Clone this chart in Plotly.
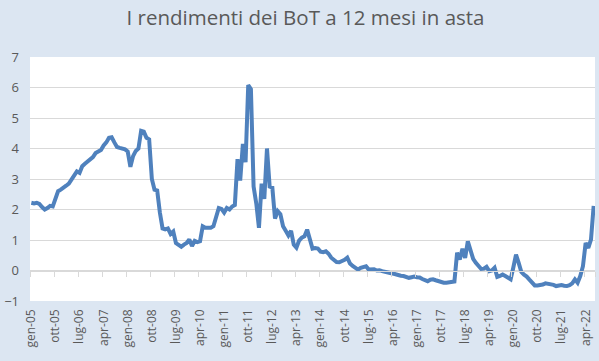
import plotly.graph_objects as go

# Monthly yields (%), Jan 2005 .. Jul 2022
y2005 = [2.22, 2.20, 2.22, 2.18, 2.08, 2.00, 2.05, 2.12, 2.10, 2.40, 2.60, 2.65]
y2006 = [2.70, 2.78, 2.85, 3.00, 3.15, 3.25, 3.20, 3.42, 3.50, 3.58, 3.65, 3.72]
y2007 = [3.85, 3.90, 3.95, 4.10, 4.20, 4.35, 4.37, 4.20, 4.05, 4.02, 4.00, 3.97]
y2008 = [3.90, 3.40, 3.75, 3.92, 4.00, 4.58, 4.55, 4.35, 4.30, 3.00, 2.65, 2.62]
y2009 = [1.90, 1.38, 1.35, 1.38, 1.20, 1.28, 0.90, 0.85, 0.78, 0.85, 0.90, 1.02]
y2010 = [0.80, 0.97, 0.93, 0.96, 1.45, 1.40, 1.40, 1.40, 1.45, 1.78, 2.05, 2.02]
y2011 = [1.90, 2.05, 2.00, 2.10, 2.15, 3.65, 2.95, 4.15, 3.55, 6.08, 5.95, 2.75]
y2012 = [2.20, 1.40, 2.85, 2.35, 4.00, 2.75, 2.72, 1.70, 1.95, 1.85, 1.45, 1.30]
y2013 = [1.15, 1.30, 0.85, 0.75, 0.98, 1.08, 1.12, 1.34, 1.00, 0.72, 0.74, 0.72]
y2014 = [0.62, 0.60, 0.63, 0.55, 0.42, 0.35, 0.28, 0.27, 0.30, 0.35, 0.42, 0.23]
y2015 = [0.15, 0.08, 0.03, 0.09, 0.12, 0.14, 0.03, 0.05, 0.04, 0.00, 0.01, -0.02]
y2016 = [-0.03, -0.05, -0.08, -0.10, -0.13, -0.16, -0.17, -0.18, -0.20, -0.24, -0.22, -0.20]
y2017 = [-0.22, -0.23, -0.28, -0.33, -0.35, -0.30, -0.29, -0.32, -0.35, -0.37, -0.40, -0.40]
y2018 = [-0.38, -0.38, -0.36, 0.58, 0.36, 0.71, 0.41, 0.96, 0.69, 0.38, 0.25, 0.13]
y2019 = [0.05, 0.06, 0.12, -0.02, 0.00, 0.09, -0.21, -0.18, -0.13, -0.18, -0.24, -0.29]
y2020 = [0.10, 0.52, 0.25, -0.05, -0.14, -0.20, -0.30, -0.42, -0.49, -0.49, -0.49, -0.46]
y2021 = [-0.42, -0.43, -0.46, -0.47, -0.51, -0.49, -0.48, -0.50, -0.51, -0.48, -0.42, -0.29]
y2022 = [-0.40, -0.18, 0.14, 0.90, 0.74, 1.01, 2.12]

month_abbr = ["gen", "feb", "mar", "apr", "mag", "giu", "lug", "ago", "set", "ott", "nov", "dic"]
years = list(range(2005, 2023))

tick_labels = ["gen-05", "ott-05", "lug-06", "apr-07", "gen-08", "ott-08", "lug-09", "apr-10",
               "gen-11", "ott-11", "lug-12", "apr-13", "gen-14", "ott-14", "lug-15", "apr-16",
               "gen-17", "ott-17", "lug-18", "apr-19", "gen-20", "ott-20", "lug-21", "apr-22"]

values = (y2005 + y2006 + y2007 + y2008 + y2009 + y2010 + y2011 + y2012 + y2013 +
          y2014 + y2015 + y2016 + y2017 + y2018 + y2019 + y2020 + y2021 + y2022)
months = [f"{m}-{str(y)[2:]}" for y in years for m in month_abbr][:len(values)]
idx = list(range(len(values)))

label_pos = [months.index(t) for t in tick_labels]
boundaries = [p - 0.5 for p in label_pos]

grid = "#d9d9d9"
txt = "#595959"
font = "Open Sans"
xr = [-0.5, len(values) - 0.5]

fig = go.Figure()
fig.add_trace(go.Scatter(x=idx, y=values, mode="lines", customdata=months,
                         hovertemplate="%{customdata}: %{y}<extra></extra>",
                         line=dict(color="#4f81bd", width=4), xaxis="x", yaxis="y"))
fig.add_trace(go.Scatter(x=idx, y=values, mode="lines", opacity=0, hoverinfo="skip",
                         showlegend=False, line=dict(width=0), xaxis="x2", yaxis="y"))

fig.update_layout(
    width=599, height=361,
    paper_bgcolor="#dce6f2", plot_bgcolor="white",
    margin=dict(l=30, r=4, t=57, b=60),
    showlegend=False,
    font=dict(family=font, color=txt),
    title=dict(text="I rendimenti dei BoT a 12 mesi in asta", font=dict(size=20.5, color=txt, family=font),
               x=0.51, xref="container", xanchor="center", y=1 - 18 / 361, yref="container", yanchor="middle"),
    xaxis=dict(range=xr, anchor="free", position=0.125, showline=True, linecolor=grid, linewidth=1,
               ticks="outside", ticklen=5, tickcolor=grid, tickvals=boundaries + [xr[1]],
               showticklabels=False, showgrid=False, zeroline=False),
    xaxis2=dict(range=xr, overlaying="x", anchor="y", side="bottom", tickvals=label_pos, ticktext=tick_labels,
                tickangle=-90, ticks="", showline=False, showgrid=False, zeroline=False,
                tickfont=dict(size=12, color=txt), ticklabelstandoff=5),
    yaxis=dict(range=[-1, 7], dtick=1, showgrid=True, gridcolor=grid, zeroline=False, showline=False,
               ticks="", tickfont=dict(size=13, color=txt), ticklabelstandoff=10),
)

fig.write_html("out.html", config={"displayModeBar": False},
               post_script="document.body.style.margin='0';document.body.style.background='#dce6f2';")
